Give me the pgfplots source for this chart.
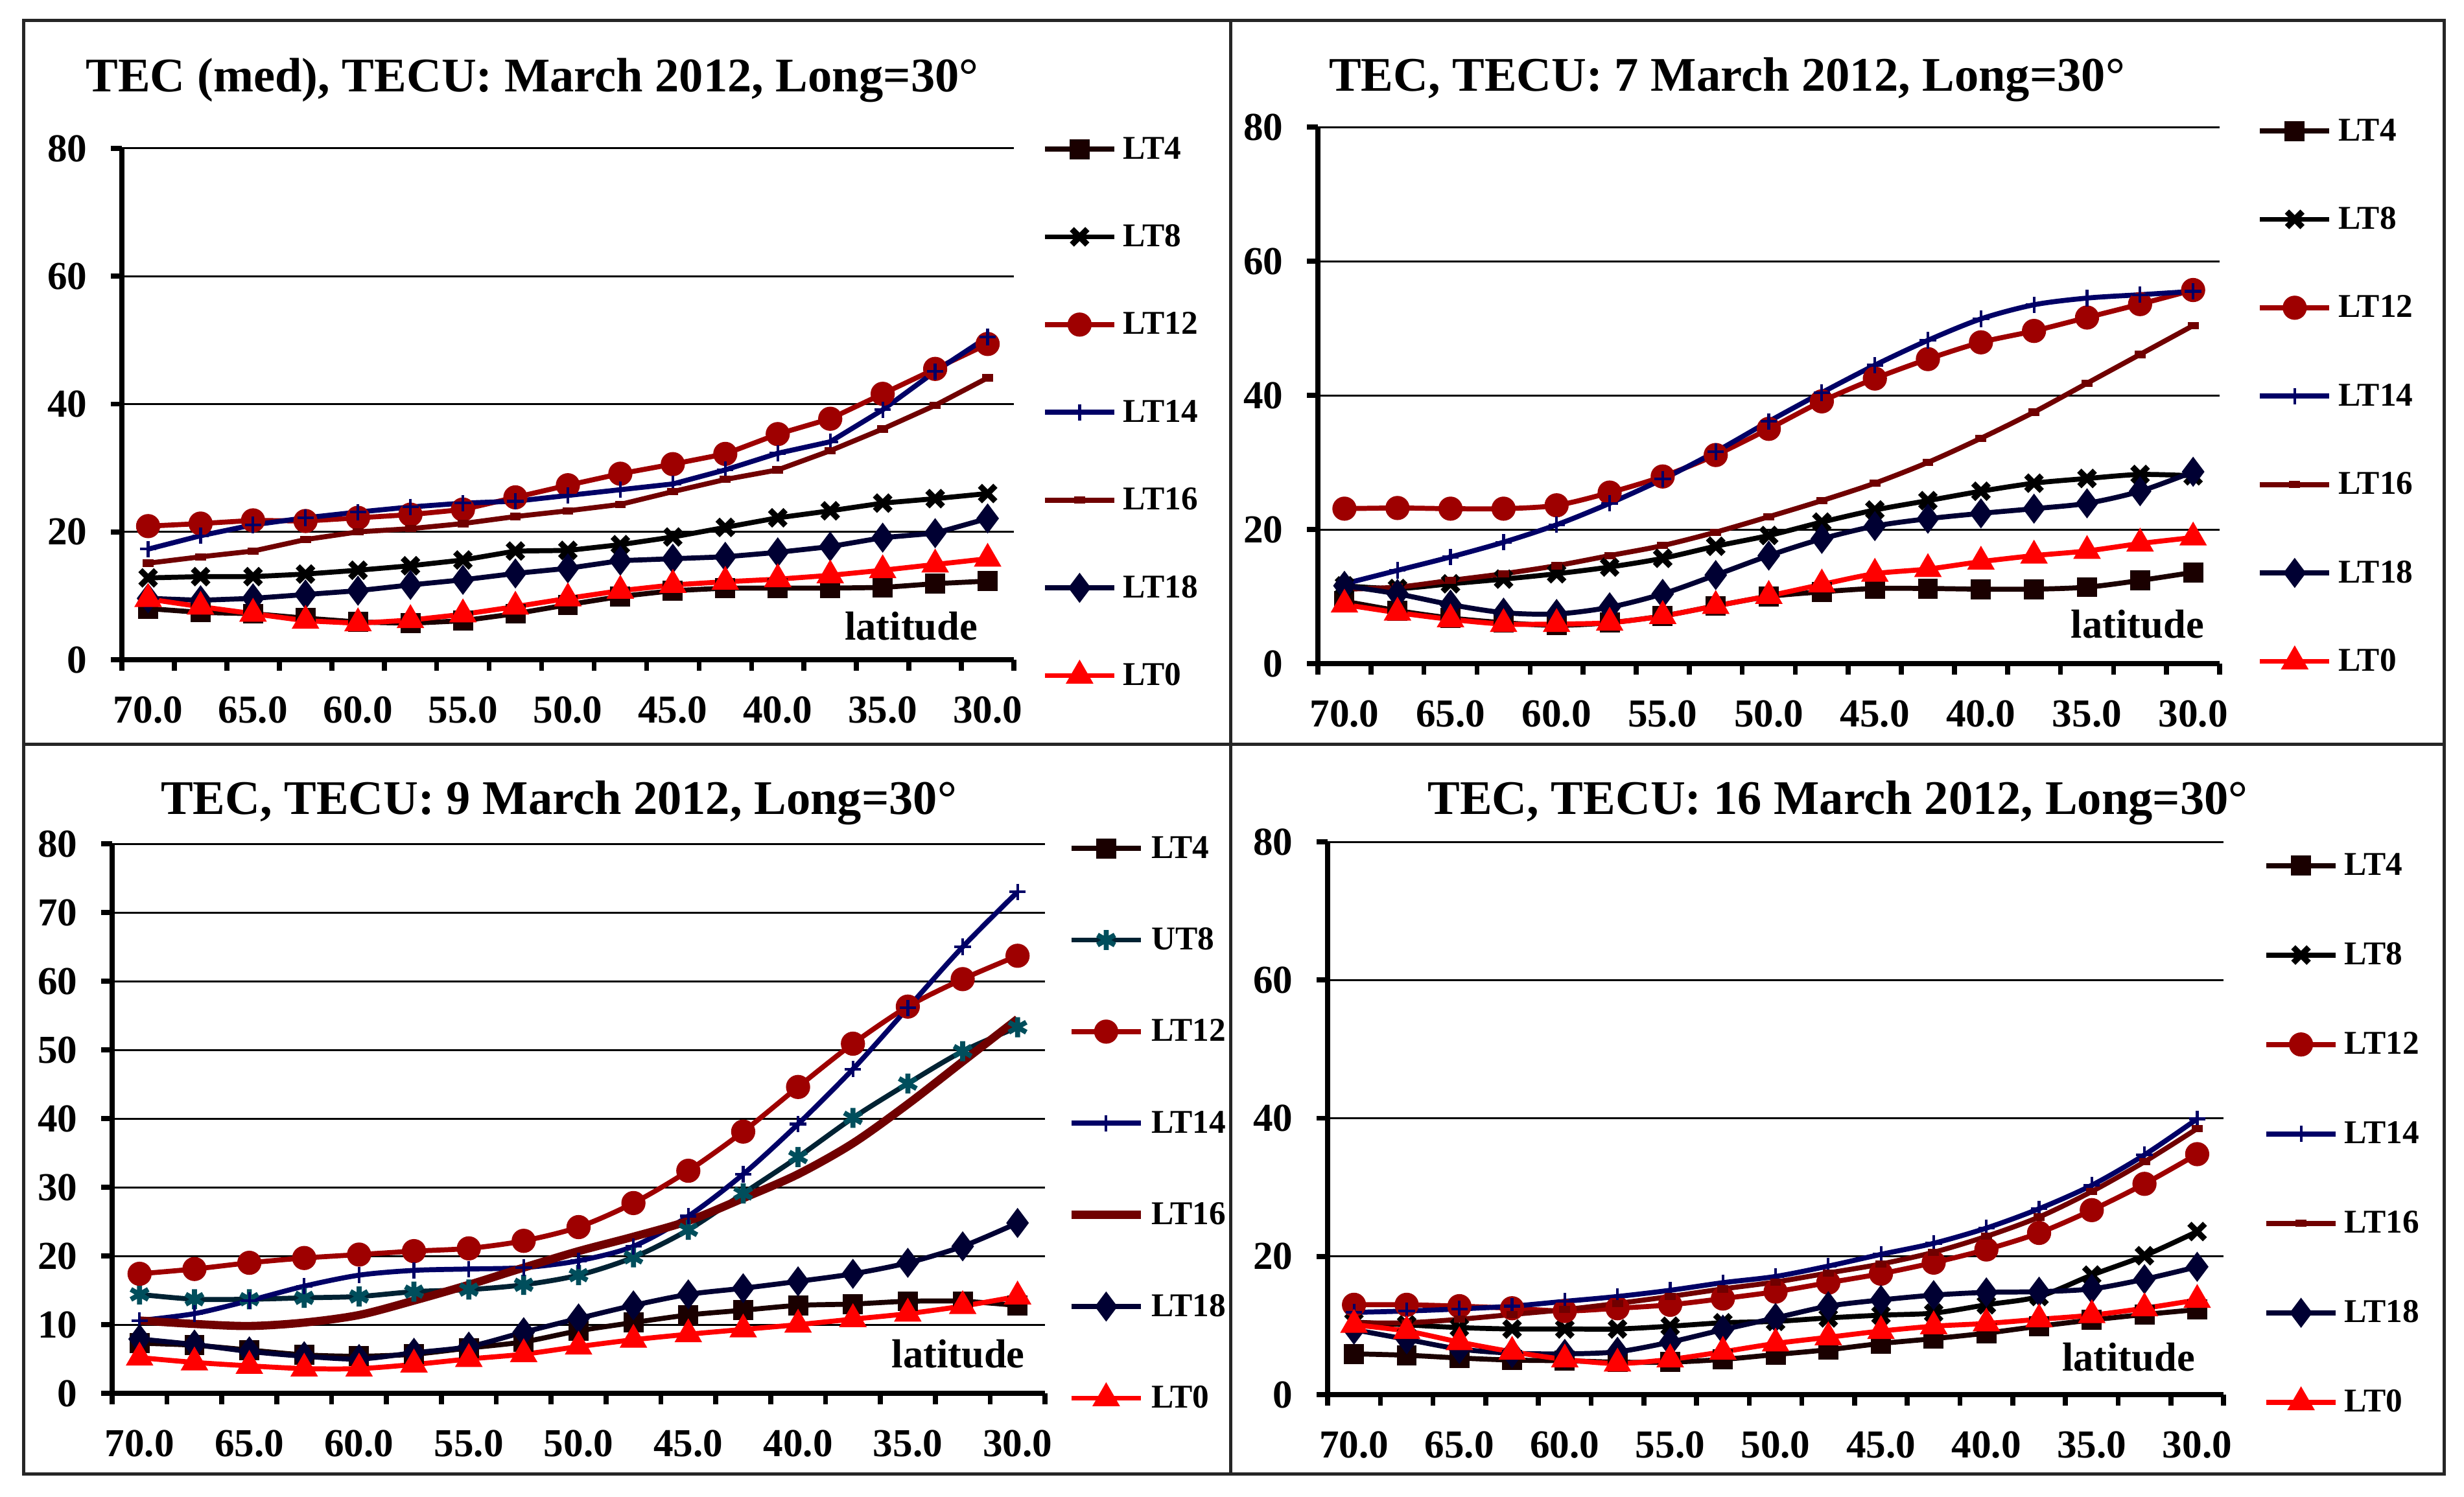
\documentclass[border=0pt]{standalone}
\usepackage{pgfplots}
\pgfplotsset{compat=1.18}
\usepackage{pgfplotstable}
\usepackage{fontspec}
\setmainfont{Liberation Serif}

\definecolor{cLTfour}{HTML}{1A0000}
\definecolor{cLTtwelve}{HTML}{9E0000}
\definecolor{cLTfourteen}{HTML}{000066}
\definecolor{cLTsixteen}{HTML}{700000}
\definecolor{cLTeighteen}{HTML}{000033}
\definecolor{cLTzero}{HTML}{FF0000}
\definecolor{cUTeight}{HTML}{002233}

% columns: category index (0 = 70.0 ... 16 = 30.0), then TEC per local time
\pgfplotstableread{
x  LT4  LT8  LT12 LT14 LT16 LT18 LT0
0  8.0  12.8 20.9 17.3 15.1 9.6  9.5
1  7.4  13.0 21.3 19.4 16.1 9.3  8.3
2  7.2  13.0 21.8 21.1 17.0 9.6  7.2
3  6.5  13.4 21.7 22.2 18.8 10.2 6.1
4  5.9  14.0 22.2 23.1 20.0 10.8 5.7
5  5.7  14.7 22.7 23.9 20.5 11.7 6.2
6  6.1  15.6 23.5 24.5 21.3 12.5 7.1
7  7.2  17.0 25.4 24.8 22.4 13.5 8.3
8  8.6  17.1 27.3 25.7 23.3 14.3 9.6
9  9.9  18.0 29.1 26.6 24.3 15.5 10.8
10 10.8 19.2 30.6 27.5 26.3 15.8 11.7
11 11.2 20.7 32.2 29.7 28.2 16.1 12.2
12 11.2 22.2 35.3 32.3 29.7 16.8 12.6
13 11.2 23.3 37.7 34.1 32.7 17.7 13.2
14 11.3 24.5 41.6 39.1 36.1 19.1 14.0
15 11.9 25.2 45.5 45.1 39.8 19.8 14.9
16 12.3 26.0 49.4 50.5 44.1 22.1 15.8
}\medtab

\pgfplotstableread{
x  LT4  LT8  LT12 LT14 LT16 LT18 LT0
0  9.3  11.6 23.1 11.9 11.1 11.6 8.8
1  7.9  11.2 23.2 13.9 11.4 10.4 7.6
2  6.8  11.9 23.1 15.9 12.4 8.8  6.6
3  6.1  12.6 23.1 18.1 13.4 7.6  5.9
4  5.7  13.4 23.6 20.7 14.6 7.4  5.9
5  6.1  14.4 25.5 23.9 16.1 8.4  6.1
6  7.1  15.7 27.9 27.5 17.6 10.4 7.1
7  8.6  17.5 31.1 31.6 19.6 13.2 8.6
8  10.0 19.1 35.0 36.1 21.9 16.1 10.1
9  10.7 21.1 39.1 40.4 24.3 18.6 11.8
10 11.2 22.9 42.5 44.5 26.9 20.5 13.4
11 11.2 24.3 45.4 48.2 30.0 21.6 14.1
12 11.1 25.7 47.9 51.4 33.6 22.4 15.2
13 11.1 26.9 49.6 53.5 37.5 23.1 16.1
14 11.4 27.6 51.6 54.5 41.8 23.9 16.8
15 12.4 28.2 53.6 55.0 46.1 25.7 17.9
16 13.6 28.0 55.7 55.5 50.4 28.6 18.8
}\sevtab

\pgfplotstableread{
x  LT4  UT8  LT12 LT14 LT16 LT18 LT0
0  7.3  14.4 17.4 10.6 10.6 7.9  5.2
1  7.0  13.7 18.1 11.6 10.1 7.1  4.5
2  6.3  13.7 19.0 13.5 9.8  6.1  4.0
3  5.6  13.9 19.7 15.6 10.3 5.4  3.6
4  5.4  14.1 20.2 17.2 11.4 5.0  3.6
5  5.7  14.8 20.7 17.9 13.5 5.9  4.2
6  6.6  15.1 21.1 18.1 15.8 6.8  5.0
7  7.5  15.8 22.2 18.3 18.3 8.9  5.7
8  9.1  17.2 24.2 19.3 20.7 10.9 6.8
9  10.3 19.8 27.7 21.4 22.8 12.8 7.8
10 11.4 23.8 32.4 25.8 25.1 14.4 8.6
11 12.1 29.1 38.1 31.9 28.4 15.3 9.3
12 12.8 34.4 44.6 39.2 31.9 16.3 10.0
13 13.0 40.1 50.9 47.2 36.4 17.4 10.8
14 13.4 45.1 56.3 56.1 42.1 19.0 11.6
15 13.4 49.8 60.3 65.0 48.3 21.4 12.7
16 12.8 53.3 63.7 73.0 54.5 24.8 14.1
}\ninetab

\pgfplotstableread{
x  LT4  LT8  LT12 LT14 LT16 LT18 LT0
0  5.9  10.5 13.0 11.9 10.4 9.4  10.1
1  5.7  10.1 13.0 12.1 10.4 8.0  9.2
2  5.3  9.7  12.8 12.4 10.9 6.6  7.6
3  5.0  9.5  12.5 12.8 11.6 6.0  6.2
4  4.9  9.5  12.1 13.5 12.3 5.9  5.1
5  4.7  9.5  12.5 14.2 13.2 6.2  4.5
6  4.7  9.9  13.0 15.1 14.2 7.6  5.1
7  5.1  10.4 13.9 16.2 15.3 9.4  6.2
8  5.8  10.6 14.9 17.1 16.3 11.1 7.4
9  6.5  11.1 16.2 18.6 17.6 12.8 8.3
10 7.4  11.5 17.5 20.3 18.9 13.7 9.2
11 8.1  11.8 19.1 21.9 20.6 14.4 9.9
12 8.9  13.0 21.0 24.1 22.9 14.8 10.3
13 9.9  14.2 23.4 26.9 25.7 14.9 10.9
14 10.8 17.3 26.7 30.3 29.4 15.3 11.5
15 11.6 20.1 30.5 34.7 33.7 16.7 12.5
16 12.3 23.6 34.8 39.9 38.5 18.5 13.7
}\sixteentab

\pgfplotsset{
  tecaxis/.style={
    scale only axis,
    axis lines*=left,
    xmin=-0.5, xmax=16.5, ymin=0, ymax=80,
    xtick={0,2,...,16},
    xticklabels={70.0,65.0,60.0,55.0,50.0,45.0,40.0,35.0,30.0},
    minor xtick={-0.5,0.5,...,16.5},
    every major x tick/.style={draw=none},
    tick align=outside,
    major tick length=0.85mm, minor tick length=0.85mm,
    tick style={black, line width=0.38mm},
    ymajorgrids, grid style={black, line width=0.15mm},
    axis line style={black, line width=0.38mm},
    tick label style={font=\fontsize{8.7}{10}\selectfont\bfseries},
    xticklabel style={yshift=-0.75mm},
    yticklabel style={xshift=-0.6mm},
    /pgf/number format/assume math mode=true,
    legend cell align=left,
    legend image code/.code={\draw[mark repeat=2,mark phase=2,#1]
      plot coordinates {(0mm,0mm)(2.675mm,0mm)(5.35mm,0mm)};},
    legend style={draw=none, fill=none, anchor=north west,
      inner sep=0pt, outer sep=0pt, column sep=0.5mm,
      font=\fontsize{7.3}{8}\selectfont\bfseries,
      nodes={inner sep=0pt, text height=2.5mm, text depth=1mm}},
  },
  s4/.style={cLTfour, line width=1.1pt, mark=square*, mark size=1.65pt, mark options={solid, fill=cLTfour}},
  s8/.style={black, line width=1.1pt, mark=x, mark size=2.4pt, mark options={solid, line width=1.3pt}},
  s12/.style={cLTtwelve, line width=1.1pt, mark=*, mark size=2.1pt, mark options={solid, fill=cLTtwelve}},
  s14/.style={cLTfourteen, line width=1.1pt, mark=+, mark size=1.8pt, mark options={solid, line width=0.6pt}},
  s16/.style={cLTsixteen, line width=1.1pt, mark=-, mark size=1.2pt, mark options={solid, line width=1.6pt}},
  s18/.style={cLTeighteen, line width=1.1pt, mark=diamond*, mark size=2.4pt, mark options={solid, fill=cLTeighteen}},
  s0/.style={cLTzero, line width=1.1pt, mark=triangle*, mark size=2.4pt, mark options={solid, fill=cLTzero}},
}

\newcommand{\lat}[2]{\node[anchor=base, font=\fontsize{8.9}{10}\selectfont\bfseries] at (rel axis cs:#1,#2) {latitude};}

\begin{document}
\begin{tikzpicture}
\path[use as bounding box] (0,0) rectangle (190.05mm,115.45mm);
\draw[black!85, line width=0.25mm] (1.8mm,1.75mm) rectangle (188.5mm,113.85mm);
\draw[black!85, line width=0.25mm] (94.9mm,1.75mm) -- (94.9mm,113.85mm);
\draw[black!85, line width=0.25mm] (1.8mm,58mm) -- (188.5mm,58mm);

\begin{axis}[tecaxis, at={(9.4mm,64.55mm)}, anchor=south west,
  width=68.8mm, height=39.45mm, ytick={0,20,...,80},
  legend style={at={(1.032,1.043)}, row sep=3.27mm}]
\addplot[s4]  table[x=x, y=LT4]  {\medtab};
\addplot[s8]  table[x=x, y=LT8]  {\medtab};
\addplot[s12] table[x=x, y=LT12] {\medtab};
\addplot[s14] table[x=x, y=LT14] {\medtab};
\addplot[s16] table[x=x, y=LT16] {\medtab};
\addplot[s18] table[x=x, y=LT18] {\medtab};
\addplot[s0]  table[x=x, y=LT0]  {\medtab};
\legend{LT4,LT8,LT12,LT14,LT16,LT18,LT0}
\lat{0.885}{0.039}
\end{axis}

\begin{axis}[tecaxis, at={(101.65mm,64.25mm)}, anchor=south west,
  width=69.55mm, height=41.4mm, ytick={0,20,...,80},
  legend style={at={(1.042,1.035)}, row sep=3.32mm}]
\addplot[s4,smooth]  table[x=x, y=LT4]  {\sevtab};
\addplot[s8,smooth]  table[x=x, y=LT8]  {\sevtab};
\addplot[s12,smooth] table[x=x, y=LT12] {\sevtab};
\addplot[s14,smooth] table[x=x, y=LT14] {\sevtab};
\addplot[s16,smooth] table[x=x, y=LT16] {\sevtab};
\addplot[s18,smooth] table[x=x, y=LT18] {\sevtab};
\addplot[s0,smooth]  table[x=x, y=LT0]  {\sevtab};
\legend{LT4,LT8,LT12,LT14,LT16,LT18,LT0}
\lat{0.909}{0.048}
\end{axis}

\begin{axis}[tecaxis, at={(8.65mm,7.95mm)}, anchor=south west,
  width=71.95mm, height=42.4mm, ytick={0,10,...,80},
  legend style={at={(1.024,1.033)}, row sep=3.57mm}]
\addplot[s4,smooth]  table[x=x, y=LT4]  {\ninetab};
\addplot[cUTeight, line width=1.1pt, smooth, mark=asterisk, mark size=2.2pt,
  mark options={solid, line width=1.1pt, draw=cUTeight!80!cyan}] table[x=x, y=UT8] {\ninetab};
\addplot[s12,smooth] table[x=x, y=LT12] {\ninetab};
\addplot[s14,smooth] table[x=x, y=LT14] {\ninetab};
\addplot[cLTsixteen, line width=1.8pt, smooth] table[x=x, y=LT16] {\ninetab};
\addplot[s18,smooth] table[x=x, y=LT18] {\ninetab};
\addplot[s0,smooth]  table[x=x, y=LT0]  {\ninetab};
\legend{LT4,UT8,LT12,LT14,LT16,LT18,LT0}
\lat{0.907}{0.047}
\end{axis}

\begin{axis}[tecaxis, at={(102.4mm,7.85mm)}, anchor=south west,
  width=69.1mm, height=42.65mm, ytick={0,20,...,80},
  legend style={at={(1.045,0.998)}, row sep=3.4mm}]
\addplot[s4,smooth]  table[x=x, y=LT4]  {\sixteentab};
\addplot[s8,smooth]  table[x=x, y=LT8]  {\sixteentab};
\addplot[s12,smooth] table[x=x, y=LT12] {\sixteentab};
\addplot[s14,smooth] table[x=x, y=LT14] {\sixteentab};
\addplot[s16,smooth] table[x=x, y=LT16] {\sixteentab};
\addplot[s18,smooth] table[x=x, y=LT18] {\sixteentab};
\addplot[s0,smooth]  table[x=x, y=LT0]  {\sixteentab};
\legend{LT4,LT8,LT12,LT14,LT16,LT18,LT0}
\lat{0.894}{0.043}
\end{axis}

\node[anchor=base, font=\fontsize{10.6}{12}\selectfont\bfseries] at (41.05mm,108.35mm) {TEC (med), TECU: March 2012, Long=30°};
\node[anchor=base, font=\fontsize{10.6}{12}\selectfont\bfseries] at (133.2mm,108.4mm) {TEC, TECU: 7 March 2012, Long=30°};
\node[anchor=base, font=\fontsize{10.6}{12}\selectfont\bfseries] at (43.1mm,52.6mm) {TEC, TECU: 9 March 2012, Long=30°};
\node[anchor=base, font=\fontsize{10.6}{12}\selectfont\bfseries] at (141.75mm,52.6mm) {TEC, TECU: 16 March 2012, Long=30°};
\end{tikzpicture}
\end{document}
